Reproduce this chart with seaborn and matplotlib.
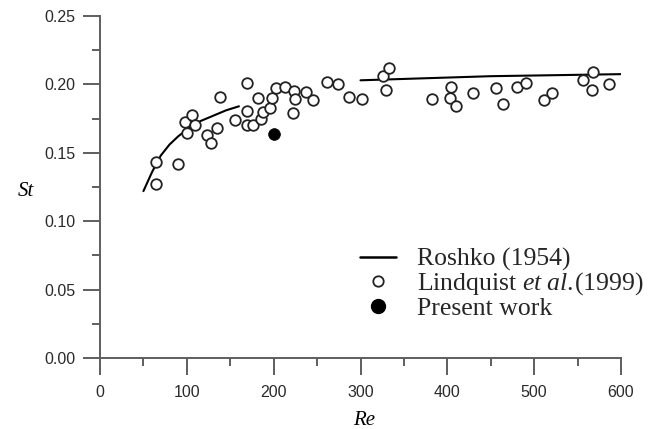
import matplotlib
matplotlib.use("Agg")
import matplotlib.pyplot as plt
from matplotlib.lines import Line2D
from matplotlib.ticker import MultipleLocator, FormatStrFormatter
import seaborn as sns
import pandas as pd

# ---- data ----
lind_re = [64.5, 64.5, 89.5, 99.8, 97.9, 105.5, 109.4, 122.8, 127.5, 134.3,
           138.6, 155.5, 169.5, 169.5, 169.0, 176.6, 181.5, 185.0, 187.4, 195.9,
           198.5, 202.4, 213.1, 223.9, 224.6, 222.3, 237.0, 245.8, 261.9, 274.6,
           286.5, 301.8, 325.5, 332.5, 329.5, 382.8, 403.9, 403.2, 410.1, 429.2,
           456.2, 464.6, 479.9, 490.8, 511.5, 521.0, 556.8, 568.3, 567.1, 586.7]
lind_st = [0.1435, 0.127, 0.142, 0.1645, 0.1727, 0.1776, 0.1703, 0.163, 0.1574, 0.1679,
           0.1905, 0.1742, 0.2013, 0.1803, 0.1705, 0.1705, 0.1898, 0.1745, 0.1800, 0.1825,
           0.1903, 0.1971, 0.1981, 0.1954, 0.1891, 0.1789, 0.1945, 0.1884, 0.2018, 0.2000,
           0.1910, 0.1896, 0.2060, 0.2120, 0.1960, 0.1891, 0.1979, 0.1903, 0.1844, 0.1935,
           0.1971, 0.1857, 0.1983, 0.2008, 0.1886, 0.1939, 0.2032, 0.2088, 0.1959, 0.2003]

present_re = [200.0]
present_st = [0.164]

roshko_low_re = [50, 60, 70, 80, 90, 100, 115, 130, 145, 160]
roshko_low_st = [0.122, 0.136, 0.148, 0.156, 0.162, 0.167, 0.173, 0.177, 0.181, 0.184]
roshko_high_re = [300, 450, 600]
roshko_high_st = [0.2030, 0.2060, 0.2075]

x_ticks = [0, 100, 200, 300, 400, 500, 600]
y_ticks = [0.00, 0.05, 0.10, 0.15, 0.20, 0.25]

labels = ["Roshko (1954)", r"Lindquist $\mathit{et\ al.}\!\mathrm{(1999)}$", "Present work"]

# ---- style ----
sns.set_theme(style="ticks")
plt.rcParams["font.family"] = ["Liberation Sans", "DejaVu Sans"]
plt.rcParams["mathtext.fontset"] = "custom"
plt.rcParams["mathtext.rm"] = "Liberation Serif"
plt.rcParams["mathtext.it"] = "Liberation Serif:italic"

fig = plt.figure(figsize=(6.51, 4.29), dpi=100)
ax = fig.add_axes([100 / 651, 71 / 429, 521 / 651, 342 / 429])

spine_c = "#5e5e5e"

sns.lineplot(x=roshko_low_re, y=roshko_low_st, ax=ax, color="black", lw=1.5,
             sort=False, estimator=None)
sns.lineplot(x=roshko_high_re, y=roshko_high_st, ax=ax, color="black", lw=1.5,
             sort=False, estimator=None)
sns.scatterplot(x=lind_re, y=lind_st, ax=ax, marker="o", s=58,
                facecolor="white", edgecolor="#222222", linewidth=1.3, zorder=3)
sns.scatterplot(x=present_re, y=present_st, ax=ax, marker="o", s=72,
                color="black", edgecolor="black", linewidth=0.5, zorder=4)

ax.set_xlim(0, 600)
ax.set_ylim(0, 0.25)
ax.set_xticks(x_ticks)
ax.set_yticks(y_ticks)
ax.xaxis.set_minor_locator(MultipleLocator(50))
ax.yaxis.set_minor_locator(MultipleLocator(0.025))
ax.yaxis.set_major_formatter(FormatStrFormatter("%.2f"))

for s in ["top", "right"]:
    ax.spines[s].set_visible(False)
for s in ["left", "bottom"]:
    ax.spines[s].set_color(spine_c)
    ax.spines[s].set_linewidth(1.4)

ax.tick_params(which="major", length=12.5, width=1.4, color=spine_c,
               labelsize=11.5, labelcolor="#2a2a2a")
ax.tick_params(which="minor", length=6, width=1.4, color=spine_c)
ax.tick_params(axis="y", which="major", pad=5)
ax.tick_params(axis="x", which="major", pad=7)

serif = ["Liberation Serif", "DejaVu Serif"]
ax.set_ylabel("St", rotation=0, family=serif, style="italic", fontsize=15,
              color="black", ha="center", va="baseline")
ax.yaxis.set_label_coords(-0.142, 0.474)
ax.set_xlabel("Re", family=serif, style="italic", fontsize=15,
              color="black", ha="center", va="baseline")
ax.xaxis.set_label_coords(0.507, -0.196)

handles = [
    Line2D([], [], color="black", lw=1.8),
    Line2D([], [], ls="none", marker="o", markersize=7.5, markerfacecolor="white",
           markeredgecolor="#222222", markeredgewidth=1.3),
    Line2D([], [], ls="none", marker="o", markersize=10, markerfacecolor="black",
           markeredgecolor="black"),
]
leg = ax.legend(handles=handles, labels=labels, loc="upper left",
                bbox_to_anchor=(360 / 651, (429 - 248) / 429),
                bbox_transform=fig.transFigure, frameon=False,
                borderpad=0, borderaxespad=0, handlelength=1.42,
                handletextpad=0.8, labelspacing=-0.03,
                prop={"family": serif, "size": 18.5})

fig.savefig("out.png", dpi=100)
